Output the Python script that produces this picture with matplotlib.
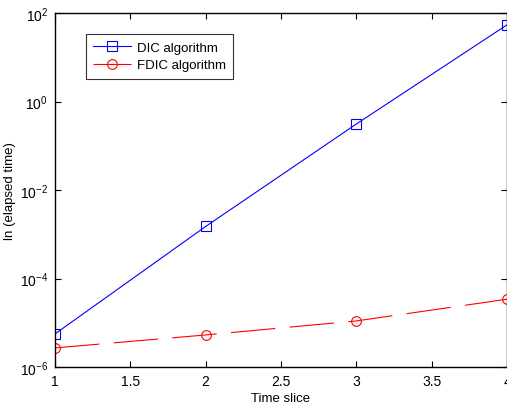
import numpy as np
import matplotlib
matplotlib.use("Agg")
import matplotlib.pyplot as plt
from matplotlib.ticker import NullLocator

plt.rcParams['font.family'] = ['Liberation Sans', 'DejaVu Sans']
plt.rcParams['mathtext.fontset'] = 'custom'
plt.rcParams['mathtext.rm'] = 'Liberation Sans'
plt.rcParams['mathtext.it'] = 'Liberation Sans'

# data
time_slice = [1, 2, 3, 4]
dic_time = [5.6e-6, 1.5e-3, 0.31, 54]
fdic_time = [2.7e-6, 5.3e-6, 1.1e-5, 3.4e-5]
x_ticks = [1, 1.5, 2, 2.5, 3, 3.5, 4]
x_labels = ['1', '1.5', '2', '2.5', '3', '3.5', '4']
y_ticks = [1e-6, 1e-4, 1e-2, 1e0, 1e2]
y_labels = ['$10^{-6}$', '$10^{-4}$', '$10^{-2}$', '$10^{0}$', '$10^{2}$']

fig = plt.figure(figsize=(5.07, 4.06), dpi=100)
ax = fig.add_axes([0.1085, 0.0936, 0.8915, 0.8719])

ax.semilogy(time_slice, dic_time, color='blue', linewidth=0.8,
            marker='s', markersize=7, markerfacecolor='none',
            markeredgecolor='blue', markeredgewidth=0.8, label='DIC algorithm')
ax.semilogy(time_slice, fdic_time, color='red', linewidth=0.8,
            marker='o', markersize=7, markerfacecolor='none',
            markeredgecolor='red', markeredgewidth=0.8,
            dashes=(40, 13), label='FDIC algorithm')

ax.set_xlim(1, 4)
ax.set_ylim(1e-6, 1e2)
ax.set_xticks(x_ticks)
ax.set_xticklabels(x_labels)
ax.set_yticks(y_ticks)
ax.set_yticklabels(y_labels)
ax.yaxis.set_minor_locator(NullLocator())

ax.tick_params(direction='in', top=True, right=True, length=4, width=0.8,
               labelsize=10, pad=5)
for s in ax.spines.values():
    s.set_linewidth(1.0)

ax.set_xlabel('Time slice', fontsize=9.5, labelpad=3)
ax.set_ylabel('ln (elapsed time)', fontsize=9.5, labelpad=3)

leg = ax.legend(loc='upper left', bbox_to_anchor=(0.068, 0.94), fontsize=9.5,
                frameon=True, fancybox=False, edgecolor='black',
                borderpad=0.55, labelspacing=0.4, handlelength=2.9,
                handletextpad=0.4, borderaxespad=0)
leg.get_frame().set_linewidth(0.8)

plt.savefig('out.png', dpi=100)
